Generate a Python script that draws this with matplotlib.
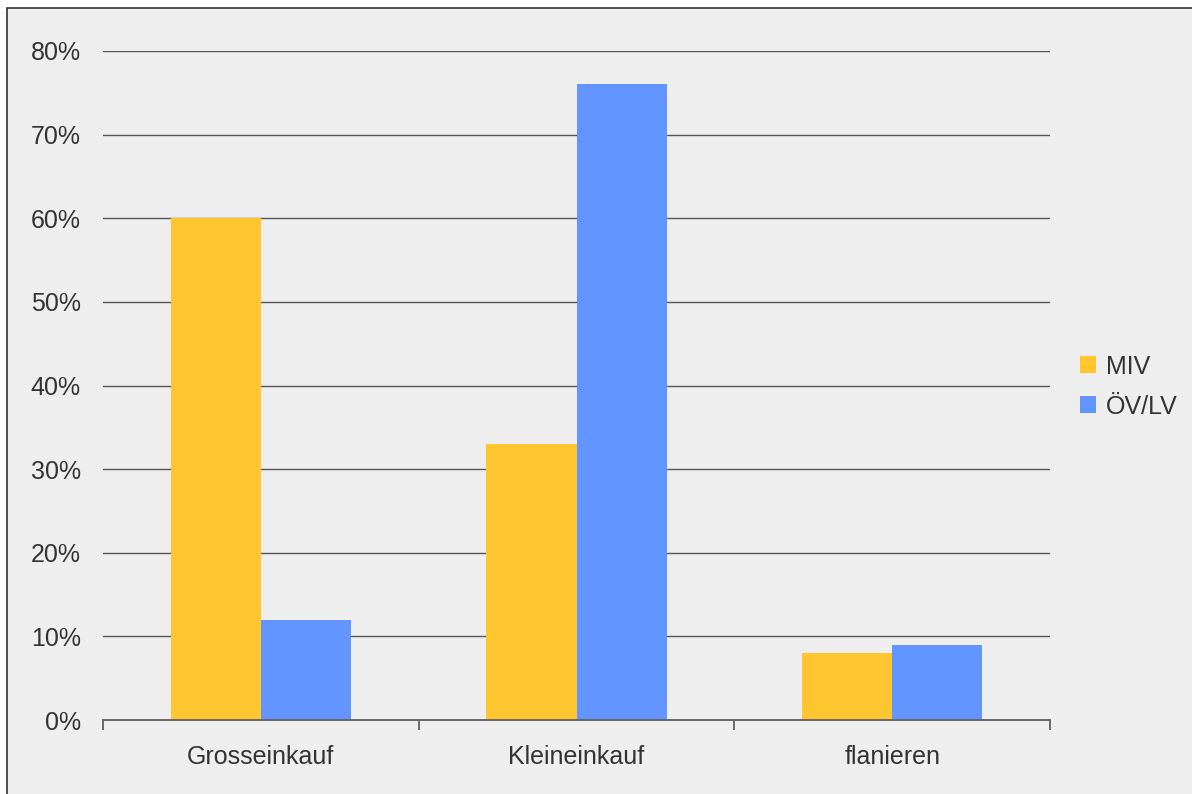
import numpy as np
import matplotlib.pyplot as plt
from matplotlib.patches import Rectangle
from matplotlib.ticker import PercentFormatter, FixedLocator

categories = ['Grosseinkauf', 'Kleineinkauf', 'flanieren']
miv = [60, 33, 8]
oev_lv = [12, 76, 9]
series_names = ['MIV', 'ÖV/LV']
colors = ['#FFC630', '#6295FF']

plt.rcParams['font.family'] = ['Liberation Sans', 'DejaVu Sans']

W, H = 1192, 794
fig = plt.figure(figsize=(W / 100, H / 100), dpi=100, facecolor='white')

# grey panel with a dark frame, cut off at the right and bottom edges
fig.patches.append(Rectangle((7 / W, -0.1), 1.2, 1.1 - 8 / H, transform=fig.transFigure,
                             facecolor='#EEEEEE', edgecolor='#333333', linewidth=1.2,
                             zorder=-5))

ax = fig.add_axes([103 / W, 1 - 720 / H, (1050 - 103) / W, (720 - 51) / H])
ax.set_facecolor('none')

x = np.arange(len(categories))
w = 0.286
ax.bar(x - w / 2, miv, width=w, color=colors[0], label=series_names[0], zorder=3)
ax.bar(x + w / 2, oev_lv, width=w, color=colors[1], label=series_names[1], zorder=3)

ax.set_xlim(-0.5, len(categories) - 0.5)
ax.set_ylim(0, 80)
ax.set_yticks(np.arange(0, 81, 10))
ax.yaxis.set_major_formatter(PercentFormatter(decimals=0))
ax.yaxis.grid(True, color='#555555', linewidth=1.0, zorder=1)
ax.set_axisbelow(True)

ax.set_xticks(x)
ax.set_xticklabels(categories)
ax.xaxis.set_minor_locator(FixedLocator(np.arange(-0.5, len(categories), 1.0)))
ax.tick_params(axis='x', which='major', length=0, pad=18, labelsize=18, labelcolor='#333333')
ax.tick_params(axis='x', which='minor', length=7, width=1.2, color='#555555')
ax.tick_params(axis='y', length=0, pad=16, labelsize=18, labelcolor='#333333')

for side in ['left', 'right', 'top']:
    ax.spines[side].set_visible(False)
ax.spines['bottom'].set_color('#666666')
ax.spines['bottom'].set_linewidth(1.4)
ax.spines['bottom'].set_zorder(4)

leg = ax.legend(loc='center left', bbox_to_anchor=(1.0, 0.4985), frameon=False,
                fontsize=18, handlelength=0.64, handleheight=0.64, handletextpad=0.4,
                labelspacing=0.64, borderaxespad=0.8)
for t in leg.get_texts():
    t.set_color('#333333')

fig.savefig('out.png', dpi=100)
